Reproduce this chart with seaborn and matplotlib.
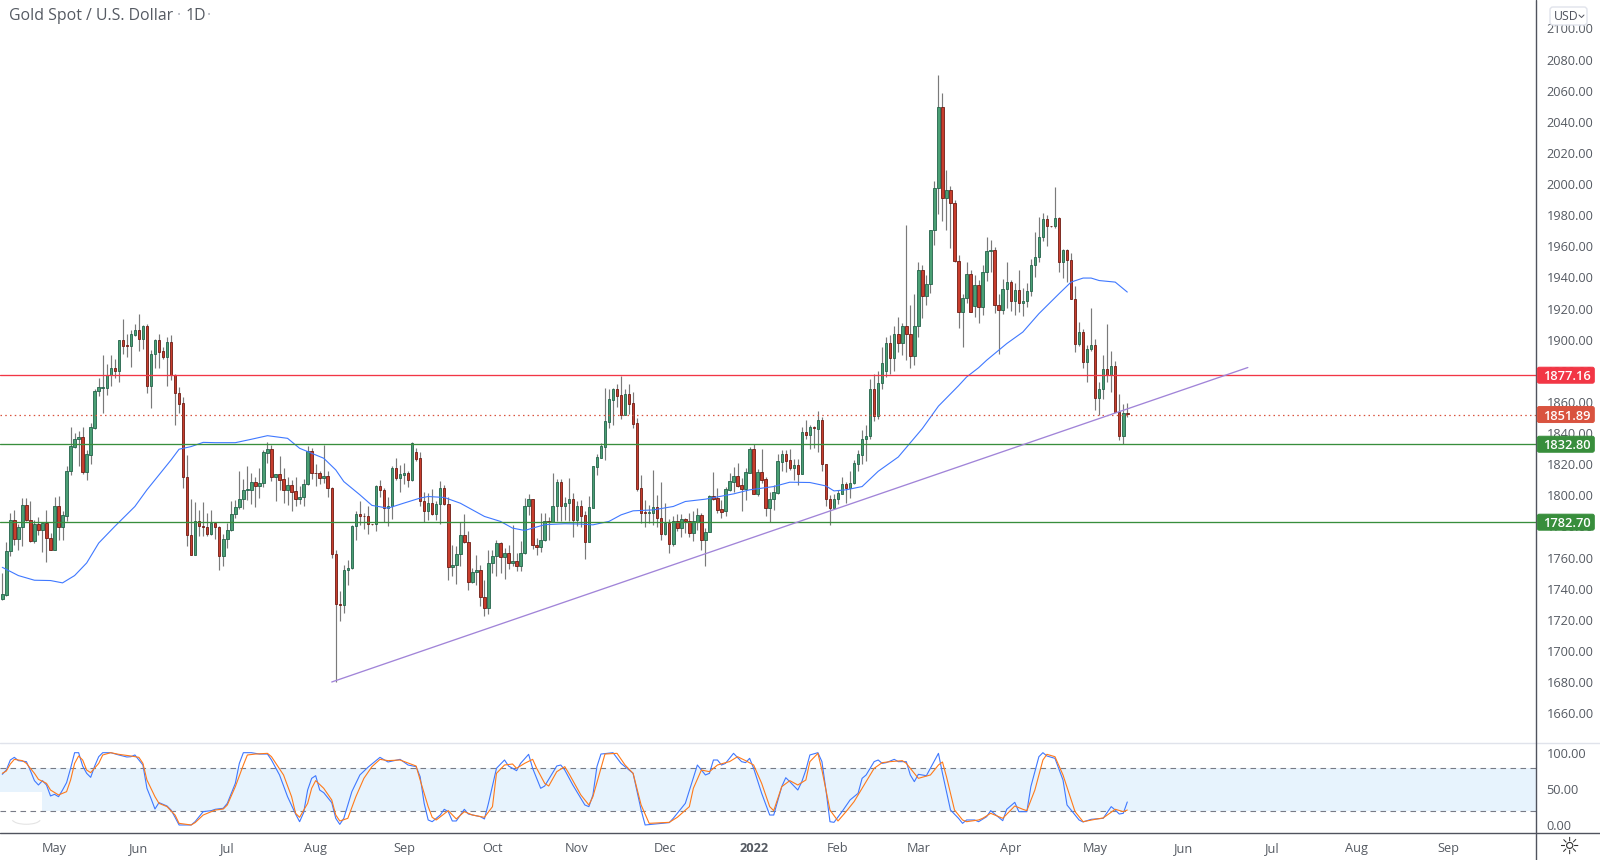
import numpy as np
import pandas as pd
import matplotlib
matplotlib.use("Agg")
import matplotlib.pyplot as plt
import seaborn as sns
from matplotlib.patches import FancyBboxPatch, Rectangle, Arc
from matplotlib.transforms import IdentityTransform

# candle values (one entry per trading day)
directions = ("GGGRGGRRGR" "GRRGRGGGGG" "RGGGGGGGRG" "RRGGRGRGGR" "RGRRRRRRGR" "RRGRRGGGGG"
              "GGGRGGGRGR" "RGRRGGGRRR" "GRRRRGGGGR" "RRRGRRGGRG" "GRGRRRGRGG" "RRGGGRRGGR"
              "RGGGRGRGRG" "GGRRGGRGGR" "GGRGRRGGGG" "GGGRRGRRRR" "RGGRRGRGRG" "RRGGRGGRRR"
              "GGGRRGGRGR" "RGGGGRRGRG" "RGRGRRRGGG" "RGGGGGGRGG" "GRGRGRRGGR" "GGGGRGRRRG"
              "GRGRGGGRRG" "GRGRGGGGGG" "RRGRGRRRGR" "GGRGGRGRRGR")

highs = [1750.1, 1769.9, 1788.5, 1790.7, 1781.7, 1798.1, 1798.1, 1796.4, 1784.3, 1786.0,
         1782.5, 1790.7, 1775.7, 1799.2, 1799.6, 1790.2, 1818.5, 1843.7, 1839.8, 1841.5,
         1844.1, 1829.1, 1846.7, 1868.0, 1875.1, 1890.0, 1884.3, 1890.0, 1887.3, 1900.1,
         1913.1, 1903.9, 1906.5, 1910.3, 1916.8, 1909.7, 1910.3, 1893.2, 1900.7, 1903.9,
         1895.4, 1901.8, 1902.9, 1877.9, 1869.3, 1863.3, 1825.9, 1797.5, 1795.8, 1790.7,
         1795.8, 1788.5, 1790.7, 1782.5, 1780.0, 1775.1, 1782.1, 1796.0, 1797.1, 1815.7,
         1810.5, 1818.9, 1814.2, 1812.0, 1817.4, 1829.1, 1834.0, 1832.3, 1813.8, 1825.3,
         1817.4, 1811.6, 1809.9, 1812.0, 1806.1, 1810.3, 1831.9, 1830.2, 1820.2, 1815.7,
         1832.4, 1815.7, 1805.0, 1765.0, 1738.8, 1755.4, 1758.6, 1781.1, 1789.6, 1796.4,
         1788.5, 1793.2, 1781.7, 1806.7, 1809.9, 1804.6, 1798.8, 1818.9, 1824.2, 1819.5,
         1820.6, 1815.9, 1834.1, 1830.2, 1827.6, 1802.4, 1801.4, 1804.1, 1796.0, 1809.3,
         1806.7, 1799.2, 1768.2, 1767.2, 1782.6, 1787.9, 1777.2, 1753.3, 1761.8, 1755.4,
         1745.8, 1765.0, 1765.0, 1771.4, 1769.7, 1766.1, 1767.8, 1781.1, 1762.9, 1770.4,
         1798.2, 1800.7, 1797.5, 1772.5, 1788.5, 1788.5, 1785.8, 1814.2, 1810.3, 1810.3,
         1799.2, 1811.0, 1801.4, 1796.0, 1797.0, 1790.2, 1799.6, 1818.8, 1826.3, 1833.4,
         1868.8, 1868.6, 1869.1, 1871.4, 1876.8, 1868.0, 1871.4, 1866.1, 1849.4, 1813.1,
         1797.0, 1793.8, 1816.3, 1800.2, 1808.8, 1794.9, 1784.7, 1786.8, 1788.1, 1788.1,
         1785.3, 1788.5, 1789.6, 1791.7, 1788.5, 1778.9, 1800.3, 1815.0, 1804.5, 1797.0,
         1805.1, 1814.6, 1818.4, 1821.0, 1810.9, 1817.3, 1830.8, 1832.9, 1816.9, 1829.7,
         1811.6, 1802.4, 1806.7, 1826.5, 1829.1, 1829.1, 1829.5, 1823.1, 1823.1, 1844.1,
         1848.3, 1845.1, 1844.5, 1854.1, 1850.0, 1820.1, 1800.3, 1800.7, 1803.5, 1811.6,
         1808.8, 1815.6, 1822.7, 1829.1, 1842.0, 1845.0, 1875.0, 1878.0, 1880.0, 1895.0,
         1901.7, 1902.8, 1908.6, 1914.6, 1910.7, 1974.0, 1922.0, 1929.5, 1950.2, 1947.7,
         1941.3, 1970.8, 2002.2, 2070.1, 2058.6, 2009.2, 1999.0, 1989.8, 1954.7, 1929.5,
         1949.8, 1944.9, 1941.3, 1938.5, 1948.3, 1966.3, 1964.3, 1959.4, 1929.5, 1938.7,
         1949.8, 1938.1, 1936.6, 1944.5, 1933.4, 1936.3, 1952.0, 1969.5, 1978.7, 1981.4,
         1980.4, 1973.3, 1998.3, 1978.7, 1958.4, 1958.4, 1955.6, 1934.2, 1911.2, 1907.1,
         1896.8, 1920.1, 1900.3, 1872.5, 1890.0, 1909.9, 1892.6, 1886.2, 1865.4, 1858.6,
         1859.4]

body_top = [1736.8, 1764.4, 1784.3, 1784.3, 1779.6, 1793.9, 1793.9, 1784.3, 1781.5, 1781.7,
            1782.5, 1782.5, 1772.5, 1793.2, 1793.2, 1787.2, 1815.5, 1831.5, 1836.0, 1837.3,
            1837.3, 1826.6, 1843.7, 1866.7, 1869.3, 1869.5, 1877.0, 1881.5, 1881.5, 1899.7,
            1899.7, 1896.5, 1903.5, 1906.5, 1906.5, 1908.6, 1908.6, 1891.1, 1899.7, 1899.7,
            1892.6, 1898.4, 1898.4, 1877.4, 1865.9, 1859.1, 1811.6, 1774.4, 1783.4, 1783.4,
            1780.0, 1779.6, 1782.5, 1782.5, 1779.6, 1772.1, 1777.8, 1788.1, 1792.4, 1797.5,
            1803.3, 1803.9, 1808.4, 1808.6, 1807.8, 1827.6, 1829.6, 1829.6, 1813.8, 1813.8,
            1810.3, 1806.5, 1806.5, 1802.6, 1798.8, 1807.1, 1828.5, 1828.5, 1814.2, 1814.2,
            1812.3, 1812.3, 1804.6, 1762.3, 1730.4, 1752.0, 1753.3, 1780.2, 1787.9, 1787.9,
            1786.6, 1786.6, 1781.5, 1805.9, 1805.9, 1803.3, 1793.0, 1817.4, 1817.4, 1813.8,
            1814.2, 1814.2, 1833.8, 1827.6, 1823.8, 1796.0, 1794.9, 1794.9, 1794.3, 1804.6,
            1804.6, 1794.3, 1755.0, 1762.3, 1774.4, 1774.4, 1769.9, 1750.7, 1752.2, 1752.0,
            1734.7, 1756.5, 1761.0, 1769.3, 1769.3, 1762.9, 1762.9, 1757.8, 1757.8, 1762.9,
            1793.0, 1797.5, 1797.5, 1768.0, 1771.2, 1783.4, 1783.4, 1793.0, 1808.4, 1808.4,
            1795.2, 1797.5, 1797.5, 1793.0, 1792.8, 1787.2, 1792.3, 1818.6, 1824.4, 1831.5,
            1847.5, 1861.6, 1868.6, 1868.6, 1864.4, 1864.8, 1864.8, 1859.0, 1846.2, 1804.5,
            1789.1, 1789.1, 1792.3, 1792.3, 1785.3, 1782.5, 1782.3, 1783.4, 1783.4, 1784.7,
            1784.7, 1783.4, 1783.2, 1787.2, 1787.2, 1776.7, 1799.4, 1799.4, 1798.1, 1791.0,
            1803.9, 1809.0, 1812.2, 1812.2, 1806.4, 1814.8, 1829.5, 1829.5, 1814.8, 1814.8,
            1810.3, 1797.5, 1802.0, 1821.8, 1826.3, 1826.3, 1822.5, 1819.3, 1819.3, 1840.4,
            1840.4, 1843.6, 1843.6, 1848.1, 1848.1, 1819.9, 1797.5, 1797.5, 1801.3, 1807.1,
            1807.1, 1807.7, 1820.6, 1826.3, 1836.0, 1838.0, 1868.0, 1868.0, 1872.0, 1885.0,
            1898.1, 1898.1, 1903.9, 1903.9, 1909.0, 1909.0, 1903.9, 1909.0, 1944.9, 1944.9,
            1935.9, 1970.5, 1997.5, 2049.4, 2049.4, 1996.2, 1996.2, 1987.9, 1950.7, 1926.9,
            1942.3, 1942.3, 1935.3, 1935.3, 1943.6, 1957.1, 1957.7, 1957.7, 1922.5, 1932.7,
            1937.2, 1937.2, 1932.1, 1932.1, 1925.0, 1931.4, 1948.1, 1953.2, 1966.1, 1977.6,
            1977.6, 1973.3, 1978.2, 1978.2, 1957.7, 1957.7, 1951.3, 1926.3, 1905.2, 1905.2,
            1894.3, 1896.8, 1896.8, 1868.6, 1881.4, 1881.4, 1883.4, 1883.4, 1853.5, 1852.6,
            1852.6]

body_bot = [1733.6, 1736.2, 1764.0, 1771.9, 1771.9, 1779.6, 1784.3, 1770.4, 1770.4, 1777.4,
            1777.4, 1772.3, 1764.6, 1764.6, 1779.3, 1779.3, 1787.0, 1815.5, 1831.1, 1836.0,
            1815.2, 1815.2, 1826.1, 1843.5, 1866.7, 1869.1, 1869.1, 1877.0, 1880.0, 1880.0,
            1896.0, 1896.0, 1896.0, 1903.1, 1900.5, 1900.5, 1870.4, 1870.4, 1891.1, 1892.2,
            1889.0, 1889.0, 1877.4, 1865.9, 1858.8, 1811.6, 1774.2, 1761.4, 1761.4, 1780.0,
            1779.3, 1775.3, 1775.3, 1779.3, 1760.8, 1760.8, 1771.6, 1777.4, 1787.7, 1792.2,
            1797.5, 1803.1, 1803.5, 1806.0, 1806.0, 1807.6, 1827.4, 1812.0, 1812.0, 1809.9,
            1803.7, 1803.7, 1802.4, 1797.5, 1797.5, 1798.8, 1807.1, 1814.0, 1814.0, 1810.8,
            1810.8, 1804.4, 1762.0, 1730.0, 1729.3, 1729.3, 1751.8, 1753.1, 1780.0, 1786.4,
            1786.4, 1781.3, 1781.3, 1781.3, 1803.1, 1791.5, 1791.5, 1792.8, 1810.8, 1810.8,
            1813.3, 1809.5, 1809.5, 1823.6, 1796.0, 1789.6, 1789.6, 1787.7, 1787.7, 1794.1,
            1794.1, 1753.7, 1753.7, 1755.0, 1762.0, 1769.7, 1744.1, 1744.1, 1750.5, 1734.7,
            1727.4, 1727.4, 1756.5, 1760.8, 1760.1, 1760.1, 1756.3, 1756.3, 1754.4, 1754.4,
            1762.9, 1792.8, 1767.8, 1766.5, 1766.5, 1771.0, 1783.0, 1783.0, 1792.8, 1792.8,
            1792.8, 1795.0, 1783.8, 1783.8, 1787.0, 1769.7, 1769.7, 1792.1, 1818.4, 1824.2,
            1831.2, 1847.3, 1861.4, 1863.9, 1851.5, 1851.5, 1858.8, 1846.0, 1804.3, 1788.9,
            1788.3, 1788.3, 1788.7, 1785.3, 1774.8, 1774.8, 1768.4, 1768.4, 1778.7, 1778.7,
            1783.2, 1775.5, 1775.5, 1782.9, 1771.0, 1771.0, 1776.7, 1797.9, 1790.8, 1789.3,
            1789.6, 1803.6, 1808.8, 1806.2, 1804.3, 1804.3, 1814.6, 1801.1, 1801.1, 1810.1,
            1791.5, 1791.5, 1797.3, 1801.7, 1821.6, 1822.3, 1817.8, 1817.8, 1813.9, 1813.9,
            1838.9, 1838.9, 1843.0, 1842.8, 1819.9, 1797.5, 1792.1, 1792.1, 1797.3, 1801.1,
            1804.7, 1804.7, 1807.7, 1820.3, 1826.0, 1836.0, 1838.0, 1851.0, 1851.0, 1872.0,
            1880.0, 1888.0, 1888.0, 1897.9, 1897.9, 1903.7, 1889.5, 1889.5, 1909.0, 1928.2,
            1928.2, 1935.9, 1970.5, 1997.5, 1991.1, 1991.1, 1987.6, 1950.4, 1917.8, 1917.8,
            1926.7, 1917.8, 1921.6, 1921.0, 1921.0, 1943.6, 1957.1, 1922.2, 1919.0, 1919.0,
            1932.5, 1924.8, 1924.8, 1923.5, 1923.5, 1924.8, 1931.4, 1947.9, 1953.0, 1965.8,
            1972.9, 1972.9, 1972.9, 1949.8, 1949.8, 1951.1, 1926.3, 1897.3, 1897.3, 1885.7,
            1885.7, 1894.1, 1862.6, 1862.6, 1868.4, 1877.0, 1877.0, 1853.7, 1838.3, 1838.3,
            1852.0]

lows = [1733.0, 1735.1, 1760.8, 1768.2, 1764.6, 1767.2, 1783.2, 1770.0, 1769.3, 1774.6,
        1763.3, 1756.9, 1764.6, 1764.6, 1771.0, 1771.0, 1783.2, 1813.1, 1830.2, 1818.5,
        1813.8, 1809.5, 1820.2, 1842.6, 1863.8, 1853.1, 1864.4, 1870.2, 1875.5, 1872.9,
        1890.7, 1889.0, 1882.6, 1902.6, 1892.8, 1894.3, 1865.9, 1856.3, 1881.5, 1881.5,
        1887.9, 1870.2, 1874.4, 1845.2, 1852.6, 1804.6, 1767.6, 1761.4, 1761.4, 1773.6,
        1774.0, 1773.6, 1774.6, 1771.9, 1751.8, 1754.3, 1766.1, 1777.2, 1785.3, 1791.1,
        1791.1, 1797.1, 1794.5, 1792.2, 1798.1, 1805.6, 1820.6, 1809.3, 1796.0, 1803.5,
        1795.0, 1793.9, 1790.2, 1792.8, 1794.3, 1793.2, 1806.7, 1810.6, 1806.1, 1807.3,
        1807.8, 1798.6, 1759.5, 1680.0, 1719.1, 1724.4, 1742.6, 1752.6, 1771.4, 1781.1,
        1778.3, 1775.3, 1781.1, 1777.2, 1799.2, 1782.8, 1780.4, 1784.9, 1809.9, 1802.4,
        1807.3, 1805.6, 1809.3, 1822.1, 1793.2, 1783.0, 1784.3, 1787.5, 1784.3, 1781.7,
        1793.9, 1745.8, 1748.4, 1743.2, 1754.4, 1769.3, 1738.9, 1743.7, 1742.6, 1729.1,
        1722.7, 1723.4, 1750.1, 1748.4, 1750.1, 1746.4, 1752.9, 1754.4, 1751.1, 1751.6,
        1762.3, 1787.5, 1765.7, 1761.4, 1763.5, 1770.6, 1771.4, 1782.8, 1783.2, 1783.2,
        1784.3, 1783.2, 1773.0, 1780.0, 1779.9, 1759.2, 1769.7, 1791.7, 1813.1, 1823.8,
        1822.7, 1843.2, 1845.1, 1856.9, 1848.8, 1851.5, 1852.2, 1843.2, 1802.8, 1782.5,
        1779.3, 1782.1, 1781.0, 1779.9, 1771.0, 1774.6, 1762.6, 1767.1, 1776.8, 1772.9,
        1775.7, 1773.5, 1770.8, 1777.8, 1765.0, 1754.3, 1776.3, 1797.0, 1788.9, 1785.5,
        1786.8, 1803.0, 1802.4, 1805.6, 1790.2, 1797.0, 1814.1, 1800.9, 1799.6, 1808.2,
        1787.0, 1782.7, 1790.6, 1800.9, 1815.9, 1815.2, 1816.3, 1809.9, 1806.7, 1813.7,
        1836.4, 1829.5, 1830.6, 1828.0, 1815.9, 1792.8, 1781.2, 1792.1, 1794.5, 1800.9,
        1795.3, 1798.5, 1807.3, 1815.9, 1820.0, 1822.0, 1836.0, 1848.0, 1849.0, 1868.0,
        1876.0, 1878.0, 1880.0, 1891.9, 1890.0, 1886.8, 1882.0, 1884.0, 1901.7, 1913.9,
        1922.0, 1929.9, 1961.1, 1980.8, 1976.1, 1970.8, 1958.8, 1949.8, 1907.5, 1895.3,
        1923.5, 1917.8, 1914.6, 1910.7, 1915.6, 1937.6, 1943.4, 1917.3, 1891.0, 1916.3,
        1920.5, 1918.4, 1915.6, 1917.8, 1915.2, 1921.0, 1928.0, 1940.2, 1949.8, 1963.3,
        1960.5, 1972.7, 1971.6, 1943.8, 1939.6, 1937.0, 1925.9, 1892.1, 1895.8, 1881.9,
        1872.9, 1892.8, 1854.7, 1851.5, 1861.8, 1872.9, 1866.5, 1853.2, 1835.5, 1832.9,
        1850.5]

# moving average, vertices
ma_idx = [0, 4, 8, 12, 15, 18, 21, 24, 28, 33, 36, 39, 42, 44, 47, 50, 53, 58, 62, 66, 71,
          74, 80, 83, 85, 89, 92, 96, 100, 104, 106, 110, 114, 120, 124, 127, 130, 135, 140,
          144, 147, 151, 154, 157, 162, 167, 170, 175, 182, 186, 192, 196, 201, 205, 207,
          210, 214, 218, 223, 229, 233, 238, 240, 243, 245, 250, 254, 258, 263, 266, 269,
          271, 273, 277, 280]
ma_val = [1753.7, 1748.4, 1745.4, 1745.2, 1743.7, 1748.4, 1756.5, 1769.3, 1780.0, 1792.8,
          1803.5, 1813.1, 1822.7, 1829.6, 1831.3, 1834.0, 1833.8, 1833.8, 1836.0, 1838.3,
          1836.6, 1830.2, 1823.8, 1816.3, 1808.8, 1800.3, 1793.5, 1791.7, 1795.0, 1798.2,
          1799.2, 1798.6, 1794.9, 1786.4, 1783.2, 1778.9, 1777.4, 1781.1, 1781.7, 1781.5,
          1781.0, 1783.2, 1787.4, 1790.0, 1790.6, 1792.8, 1796.0, 1797.5, 1800.9, 1803.5,
          1805.6, 1808.4, 1808.2, 1806.0, 1802.8, 1803.5, 1805.6, 1815.4, 1824.6, 1842.9,
          1857.3, 1870.4, 1876.0, 1882.0, 1886.8, 1897.5, 1904.9, 1916.7, 1929.5, 1937.0,
          1939.6, 1939.6, 1938.0, 1937.0, 1930.6]

# stochastic oscillator, vertices
k_idx = [0, 1, 2, 3, 4, 6, 7, 8, 9, 10, 11, 12, 13, 14, 15, 16, 17, 18, 19, 20, 21, 22, 23,
         24, 25, 27, 29, 31, 32, 33, 34, 35, 36, 37, 38, 39, 41, 42, 43, 44, 47, 48, 50, 52,
         53, 55, 56, 58, 59, 60, 62, 64, 66, 67, 69, 71, 73, 74, 75, 76, 77, 78, 79, 80, 82,
         83, 84, 85, 87, 89, 91, 94, 96, 99, 101, 103, 104, 105, 106, 107, 109, 110, 111, 112,
         113, 115, 116, 119, 120, 121, 123, 125, 126, 128, 129, 131, 132, 134, 135, 138, 139,
         140, 142, 143, 145, 146, 147, 148, 149, 152, 154, 157, 159, 160, 166, 167, 169, 170,
         173, 175, 176, 177, 178, 179, 180, 182, 184, 185, 186, 187, 189, 191, 192, 194, 195,
         196, 198, 199, 200, 201, 203, 204, 205, 206, 207, 209, 211, 213, 214, 215, 217, 218,
         219, 220, 222, 223, 225, 226, 227, 228, 230, 233, 234, 236, 238, 239, 240, 242, 243,
         245, 246, 248, 249, 250, 252, 253, 255, 256, 258, 259, 260, 262, 264, 265, 266, 268,
         269, 271, 274, 276, 277, 278, 279, 280]
k_val = [70.7, 76.7, 90.7, 94.4, 89.8, 88.4, 75.8, 61.9, 55.8, 61.9, 55.8, 40.5, 42.8, 39.5,
         48.8, 59.1, 79.1, 100.9, 100.9, 82.3, 72.1, 66.5, 82.3, 95.3, 100.9, 100.9, 97.7,
         94.9, 95.3, 97.7, 90.7, 83.7, 51.2, 37.2, 22.3, 31.2, 26.5, 20.9, 10.7, 0.0, 0.0,
         4.7, 18.6, 20.0, 21.9, 23.3, 30.2, 58.1, 86.0, 100.9, 100.9, 99.0, 99.0, 90.7, 69.8,
         39.5, 15.3, 4.6, 17.2, 48.8, 65.1, 68.8, 48.8, 45.1, 31.2, 9.3, 0.9, 9.3, 46.5, 69.8,
         80.5, 94.4, 87.9, 91.6, 83.7, 81.4, 67.4, 30.2, 7.0, 4.6, 13.9, 21.9, 18.6, 5.6, 5.6,
         21.9, 15.3, 11.6, 8.4, 30.2, 79.1, 90.7, 82.3, 75.8, 86.0, 98.6, 79.1, 51.2, 54.4,
         82.3, 83.7, 76.7, 55.8, 46.5, 27.9, 25.6, 41.9, 81.4, 99.0, 100.9, 86.0, 72.1, 20.9,
         0.0, 3.3, 9.3, 23.3, 30.2, 83.7, 69.8, 72.1, 90.7, 90.7, 83.7, 86.0, 100.0, 88.4,
         87.0, 93.0, 79.1, 44.2, 13.9, 13.9, 53.5, 66.0, 60.5, 48.8, 60.5, 76.7, 97.7, 100.9,
         88.4, 48.8, 4.6, 3.7, 18.6, 34.9, 44.2, 65.1, 69.8, 88.4, 90.7, 86.0, 87.0, 91.6,
         88.4, 88.4, 69.8, 60.5, 70.7, 68.8, 100.0, 72.1, 20.9, 9.3, 2.3, 7.0, 7.0, 4.6, 11.6,
         20.0, 10.7, 6.0, 21.9, 31.6, 18.6, 18.6, 53.5, 95.3, 100.9, 96.3, 93.0, 62.8, 27.9,
         20.9, 7.0, 4.2, 7.9, 9.3, 25.6, 20.9, 15.3, 16.3, 32.1]

d_idx = [0, 1, 2, 3, 5, 6, 8, 9, 11, 12, 14, 16, 17, 18, 19, 20, 21, 22, 24, 25, 27, 29, 32,
         34, 35, 36, 38, 39, 41, 43, 44, 47, 48, 50, 53, 55, 56, 58, 60, 61, 63, 66, 67, 70,
         72, 73, 74, 76, 77, 78, 80, 82, 83, 84, 86, 88, 90, 92, 94, 96, 99, 103, 104, 106,
         107, 108, 111, 113, 115, 117, 120, 122, 123, 125, 127, 128, 130, 132, 133, 135, 136,
         138, 140, 141, 144, 146, 147, 149, 150, 153, 155, 157, 159, 161, 166, 168, 171, 172,
         174, 176, 178, 180, 181, 183, 185, 187, 189, 191, 192, 194, 196, 198, 200, 201, 203,
         204, 206, 208, 210, 212, 214, 217, 219, 221, 224, 225, 227, 228, 231, 233, 234, 235,
         237, 239, 240, 243, 244, 246, 249, 252, 254, 255, 257, 259, 260, 262, 264, 267, 269,
         272, 274, 277, 279, 280]
d_val = [72.1, 75.3, 85.1, 91.6, 89.8, 86.0, 72.1, 63.7, 58.1, 48.8, 41.9, 46.5, 62.8, 86.0,
         96.3, 90.7, 76.7, 73.0, 86.0, 97.7, 100.9, 98.6, 96.3, 94.4, 86.0, 62.8, 39.5, 30.2,
         25.6, 13.9, 2.3, 0.0, 3.3, 13.9, 20.9, 22.3, 27.9, 53.5, 83.7, 97.7, 99.0, 100.0,
         95.3, 69.8, 39.5, 16.3, 10.7, 30.2, 51.2, 61.9, 51.2, 34.9, 13.9, 5.6, 9.3, 39.5,
         65.1, 81.4, 91.6, 89.8, 90.7, 82.3, 62.8, 25.6, 10.7, 7.0, 20.0, 8.4, 18.6, 13.9,
         10.7, 25.6, 72.1, 83.7, 85.1, 79.1, 86.0, 91.6, 79.1, 58.1, 54.4, 74.4, 81.4, 72.1,
         41.9, 27.9, 39.5, 79.1, 99.0, 100.0, 83.7, 72.1, 27.9, 2.3, 3.7, 10.7, 25.6, 51.2,
         76.7, 74.4, 83.7, 87.0, 88.4, 95.3, 89.8, 83.7, 58.1, 25.6, 20.0, 53.5, 61.9, 55.8,
         62.8, 88.4, 100.0, 76.7, 20.9, 5.6, 18.6, 32.6, 51.2, 79.1, 87.0, 88.4, 89.8, 86.0,
         72.1, 65.1, 69.8, 83.7, 87.9, 67.4, 20.9, 7.0, 4.6, 7.0, 9.3, 16.3, 9.3, 26.5, 21.9,
         20.0, 48.8, 90.7, 98.6, 95.3, 69.8, 18.6, 4.6, 7.9, 9.8, 21.9, 18.6, 20.9]

# drawn levels
level_prices = [1877.16, 1851.89, 1832.80, 1782.70]
level_labels = ["1877.16", "1851.89", "1832.80", "1782.70"]
level_colors = ["#f23645", "#d9533f", "#388e3c", "#388e3c"]
trend_idx = [82, 310]
trend_price = [1680.0, 1882.1]

price_ticks = list(range(1660, 2101, 20))
osc_ticks = [0, 50, 100]
month_pos = [13, 34, 56, 78, 100, 122, 143, 165, 187, 208, 228, 251, 272, 294, 316, 337, 360]
month_labels = ["May", "Jun", "Jul", "Aug", "Sep", "Oct", "Nov", "Dec", "2022",
                "Feb", "Mar", "Apr", "May", "Jun", "Jul", "Aug", "Sep"]

W, H = 1600, 860
AXIS_X = 1536.3
SPLIT_Y = 743.3
BOTTOM_Y = 833.3
TEXT = "#555a62"
FONT = ["Open Sans", "DejaVu Sans"]

sns.set_theme(style="white")
plt.rcParams["font.family"] = FONT

df = pd.DataFrame({"high": highs, "top": body_top, "bot": body_bot, "low": lows,
                   "dir": list(directions)})
df["idx"] = df.index

fig = plt.figure(figsize=(16, 8.6), dpi=100, facecolor="white")
ax = fig.add_axes([0, (H - SPLIT_Y) / H, AXIS_X / W, SPLIT_Y / H])
ax2 = fig.add_axes([0, (H - BOTTOM_Y) / H, AXIS_X / W, (BOTTOM_Y - SPLIT_Y) / H])

x_range = (-0.57, 381.8)

# candles
ax.vlines(df["idx"], df["low"], df["high"], color="#7a7a7a", lw=0.85, zorder=2)
for key, fill, edge in [("G", "#4a9f74", "#24634a"), ("R", "#c73d2d", "#6f1b13")]:
    part = df[df["dir"] == key]
    ax.bar(part["idx"], part["top"] - part["bot"], bottom=part["bot"], width=0.62,
           color=fill, edgecolor=edge, linewidth=0.6, zorder=3)

sns.lineplot(x=ma_idx, y=ma_val, ax=ax, color="#3f78ff", lw=0.8, estimator=None,
             sort=False, zorder=4)

ax.axhline(level_prices[0], color=level_colors[0], lw=0.95, zorder=5)
ax.axhline(level_prices[1], color=level_colors[1], lw=0.9, ls=(0, (1.2, 2.6)), zorder=5)
ax.axhline(level_prices[2], color=level_colors[2], lw=0.95, zorder=5)
ax.axhline(level_prices[3], color=level_colors[3], lw=0.95, zorder=5)
ax.plot(trend_idx, trend_price, color="#a184d8", lw=0.95, zorder=5)

ax.set_xlim(*x_range)
ax.set_ylim(1640.6, 2118.3)
ax.set_xticks([])
ax.set_yticks(price_ticks)
ax.set_yticklabels([f"{v:.2f}" for v in price_ticks], fontsize=9.2, color=TEXT)
ax.yaxis.tick_right()
ax.tick_params(axis="y", length=0, pad=7.4)
for s in ax.spines.values():
    s.set_visible(False)

# oscillator
ax2.axhspan(20, 80, color="#e7f3fd", lw=0, zorder=1)
ax2.add_patch(Rectangle((-1, 19.5), 10.9, 27, facecolor="white", edgecolor="none", zorder=1.5))
ax2.add_patch(Arc((24 / 4.018, 8), 7, 14, theta1=200, theta2=340, color="#e4e4e4", lw=0.8, zorder=1.6))
for lvl in (20, 80):
    ax2.axhline(lvl, color="#787b86", lw=0.8, ls=(0, (5, 4)), zorder=2)
sns.lineplot(x=k_idx, y=k_val, ax=ax2, color="#3f78ff", lw=0.8, estimator=None, sort=False, zorder=3)
sns.lineplot(x=d_idx, y=d_val, ax=ax2, color="#ff7a1a", lw=0.8, estimator=None, sort=False, zorder=4)
ax2.set_xlim(*x_range)
ax2.set_ylim(-11.6, 114)
ax2.set_xticks(month_pos)
ax2.set_xticklabels(month_labels, fontsize=9.2, color=TEXT)
for lab, txt in zip(ax2.get_xticklabels(), month_labels):
    if txt == "2022":
        lab.set_fontweight("bold")
ax2.set_yticks(osc_ticks)
ax2.set_yticklabels([f"{v:.2f}" for v in osc_ticks], fontsize=9.2, color=TEXT)
ax2.yaxis.tick_right()
ax2.tick_params(axis="y", length=0, pad=7.4)
ax2.tick_params(axis="x", length=0, pad=6.5)
for s in ax2.spines.values():
    s.set_visible(False)

# panel separators
fig.add_artist(plt.Line2D([0, 1], [(H - SPLIT_Y) / H] * 2, color="#e0e3eb", lw=1))
fig.add_artist(plt.Line2D([0, 1], [(H - BOTTOM_Y) / H] * 2, color="#50535e", lw=1))
fig.add_artist(plt.Line2D([AXIS_X / W] * 2, [0, 1], color="#50535e", lw=1))

# price labels on the right scale
for price, label, col in zip(level_prices, level_labels, level_colors):
    yy = ax.transData.transform((0, price))[1]
    box = FancyBboxPatch((AXIS_X + 1, yy - 8), 57, 16, boxstyle="round,pad=0,rounding_size=2",
                         facecolor=col, edgecolor=col, lw=0.7, transform=IdentityTransform(), zorder=10)
    fig.add_artist(box)
    fig.text(1567 / W, yy / H, label, color="white", fontsize=9.3, fontweight="semibold",
             ha="center", va="center_baseline", zorder=11)

# USD button
fig.add_artist(FancyBboxPatch((1550, H - 25), 37, 18, boxstyle="round,pad=0,rounding_size=3",
                              facecolor="white", edgecolor="#e0e3eb", lw=1,
                              transform=IdentityTransform(), zorder=10))
fig.text(1554 / W, (H - 16) / H, "USD", color="#50535e", fontsize=8.8, ha="left", va="center", zorder=11)
fig.add_artist(plt.Line2D([1579 / W, 1581.5 / W, 1584 / W], [(H - 15) / H, (H - 17.5) / H, (H - 15) / H],
                          color="#50535e", lw=0.7, zorder=11))

# title
fig.text(9 / W, (H - 16) / H, "Gold Spot / U.S. Dollar", color=TEXT, fontsize=11.4, ha="left", va="center")
fig.text(177 / W, (H - 16) / H, "·", color="#b2b5be", fontsize=11.4, ha="left", va="center")
fig.text(186 / W, (H - 16) / H, "1D", color=TEXT, fontsize=11.4, ha="left", va="center")
fig.text(207 / W, (H - 16) / H, "·", color="#b2b5be", fontsize=11.4, ha="left", va="center")

# settings icon
fig.text(1568.5 / W, (H - 847) / H, "☼", color="#333333", fontsize=17, ha="center", va="center",
         family="DejaVu Sans")

fig.savefig("out.png", dpi=100, facecolor="white")
